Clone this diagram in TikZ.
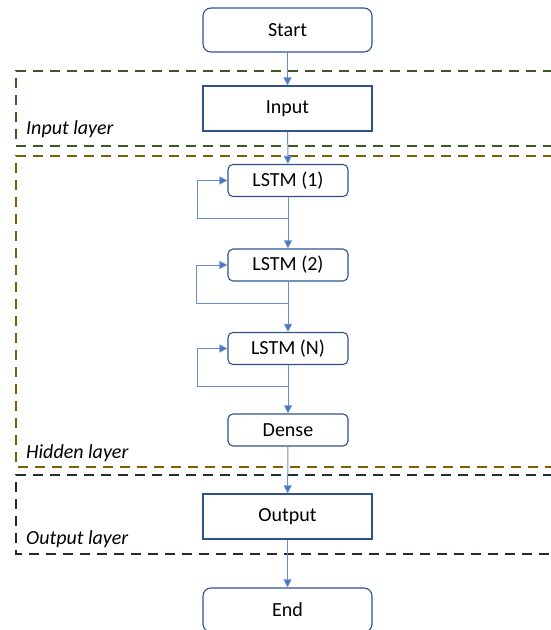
\documentclass[tikz,border=0pt]{standalone}
\usepackage{fontspec}
\setmainfont{Carlito}
\usetikzlibrary{arrows.meta}
\definecolor{boxblue}{HTML}{2F528F}
\definecolor{flowblue}{HTML}{4472C4}
\definecolor{inputgreen}{HTML}{3A5A26}
\definecolor{hiddengold}{HTML}{7F6000}
\definecolor{outputnavy}{HTML}{222A35}
\tikzset{
  termbox/.style={draw=boxblue, line width=1.1pt, rounded corners=8pt, fill=white,
    minimum width=169pt, minimum height=44pt, inner sep=0pt,
    font=\fontsize{20}{23}\selectfont},
  procbox/.style={draw=boxblue, line width=1.1pt, fill=white,
    minimum width=169pt, minimum height=45pt, inner sep=0pt,
    font=\fontsize{20}{23}\selectfont},
  cellbox/.style={draw=boxblue, line width=1.1pt, rounded corners=5pt, fill=white,
    minimum width=120pt, minimum height=32pt, inner sep=0pt,
    font=\fontsize{20}{23}\selectfont},
  flow/.style={draw=flowblue!80, line width=1pt, -{Triangle[length=8pt,width=8pt,fill=flowblue]}},
  layerframe/.style={line width=2pt, dash pattern=on 10pt off 7pt},
  layerlabel/.style={anchor=west, inner sep=0pt, font=\fontsize{20}{23}\selectfont\itshape}
}
\begin{document}
\begin{tikzpicture}[x=1pt,y=-1pt]
  \useasboundingbox (0,0) rectangle (550,630);

  % layer frames (open towards the right edge)
  \draw[layerframe, draw=inputgreen]  (570,71)  -- (16,71)  -- (16,146) -- (570,146);
  \draw[layerframe, draw=hiddengold]  (570,156) -- (16,156) -- (16,467) -- (570,467);
  \draw[layerframe, draw=outputnavy]  (570,475) -- (16,475) -- (16,554) -- (570,554);

  \node[layerlabel] (lblin)  at (26,129) {Input layer};
  \node[layerlabel] (lblhid) at (26,453) {Hidden layer};
  \node[layerlabel] (lblout) at (26,539) {Output layer};

  % flowchart nodes
  \node[termbox] (start)  at (287.5,30)    {Start};
  \node[procbox] (input)  at (287.5,108.5) {Input};
  \node[cellbox] (lstm1)  at (288,180.5)   {LSTM (1)};
  \node[cellbox] (lstm2)  at (288,265)     {LSTM (2)};
  \node[cellbox] (lstmn)  at (288,348.5)   {LSTM (N)};
  \node[cellbox] (dense)  at (288,430)     {Dense};
  \node[procbox] (output) at (287.5,516.5) {Output};
  \node[termbox] (end)    at (287.5,610)   {End};

  % recurrent loop corners
  \coordinate (r1) at (288,218);
  \coordinate (r2) at (288,303);
  \coordinate (rn) at (288,386);

  % main flow
  \draw[flow] (start) -- (input);
  \draw[flow] (input) -- (lstm1);
  \draw[flow] (lstm1) -- (lstm2);
  \draw[flow] (lstm2) -- (lstmn);
  \draw[flow] (lstmn) -- (dense);
  \draw[flow] (dense) -- (output);
  \draw[flow] (output) -- (end);

  % recurrent connections
  \draw[flow] (r1) -- ++(-91,0) |- (lstm1.west);
  \draw[flow] (r2) -- ++(-92,0) |- (lstm2.west);
  \draw[flow] (rn) -- ++(-91,0) |- (lstmn.west);
\end{tikzpicture}
\end{document}
